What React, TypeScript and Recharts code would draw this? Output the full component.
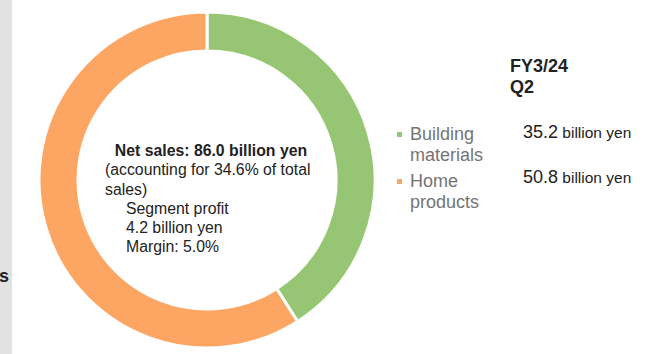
import { Cell, Legend, Pie, PieChart } from 'recharts'

const segments = ['Building materials', 'Home products']
const segmentLines = [['Building', 'materials'], ['Home', 'products']]
const salesBillionYen = [35.2, 50.8]
const colors = ['#96C673', '#FDA563']

const periodLabel = ['FY3/24', 'Q2']
const centerTitle = 'Net sales: 86.0 billion yen'
const centerShare = ['(accounting for 34.6% of total', 'sales)']
const centerProfit = ['Segment profit', '4.2 billion yen', 'Margin: 5.0%']

const data = segments.map((name, i) => ({ name, value: salesBillionYen[i] }))

const font = 'Arial, "Liberation Sans", sans-serif'

const SegmentLegend = () => (
  <div style={{ position: 'relative', width: 260, height: 170, fontFamily: font }}>
    <div
      style={{
        position: 'absolute',
        left: 115,
        top: 0,
        fontWeight: 700,
        fontSize: 18,
        lineHeight: '21px',
        color: '#222',
      }}
    >
      {periodLabel.map((t) => (
        <div key={t}>{t}</div>
      ))}
    </div>
    {segments.map((name, i) => (
      <div key={name}>
        <div
          style={{
            position: 'absolute',
            left: 2,
            top: 76 + i * 47,
            width: 5,
            height: 5,
            background: colors[i],
          }}
        />
        <div
          style={{
            position: 'absolute',
            left: 15,
            top: 68 + i * 47,
            fontSize: 18,
            lineHeight: '20.5px',
            color: '#747474',
          }}
        >
          {segmentLines[i].map((t) => (
            <div key={t}>{t}</div>
          ))}
        </div>
        <div
          style={{
            position: 'absolute',
            left: 128,
            top: 66 + i * 45,
            lineHeight: '21px',
            color: '#222',
            whiteSpace: 'nowrap',
          }}
        >
          <span style={{ fontSize: 18 }}>{salesBillionYen[i].toFixed(1)}</span>
          <span style={{ fontSize: 15.5 }}> billion yen</span>
        </div>
      </div>
    ))}
  </div>
)

export default function App() {
  return (
    <div
      style={{
        position: 'absolute',
        left: 0,
        top: 0,
        width: 656,
        height: 354,
        background: '#fff',
        overflow: 'hidden',
      }}
    >
      <div
        style={{
          position: 'absolute',
          left: 0,
          top: 0,
          width: 12,
          height: 354,
          background: '#E3E2E0',
        }}
      />
      <div
        style={{
          position: 'absolute',
          left: -1,
          top: 265,
          fontFamily: font,
          fontWeight: 700,
          fontSize: 18,
          lineHeight: '22px',
          color: '#222',
        }}
      >
        s
      </div>
      <PieChart
        width={656}
        height={354}
        margin={{ top: 0, right: 0, bottom: 0, left: 0 }}
        style={{ position: 'absolute', left: 0, top: 0 }}
      >
        <Pie
          data={data}
          dataKey="value"
          nameKey="name"
          cx={207}
          cy={180}
          innerRadius={129}
          outerRadius={168}
          startAngle={90}
          endAngle={-270}
          stroke="#fff"
          strokeWidth={3}
          isAnimationActive={false}
        >
          {data.map((d, i) => (
            <Cell key={d.name} fill={colors[i]} />
          ))}
        </Pie>
        <Legend
          layout="vertical"
          content={() => <SegmentLegend />}
          wrapperStyle={{ left: 395, top: 56, width: 260 }}
        />
      </PieChart>
      <div
        style={{
          position: 'absolute',
          left: 105,
          top: 141,
          width: 212,
          fontFamily: font,
          fontSize: 15.8,
          lineHeight: '19.3px',
          color: '#222',
          whiteSpace: 'nowrap',
        }}
      >
        <div style={{ fontWeight: 700, textAlign: 'center' }}>{centerTitle}</div>
        {centerShare.map((t) => (
          <div key={t}>{t}</div>
        ))}
        <div style={{ paddingLeft: 21 }}>
          {centerProfit.map((t) => (
            <div key={t}>{t}</div>
          ))}
        </div>
      </div>
    </div>
  )
}
